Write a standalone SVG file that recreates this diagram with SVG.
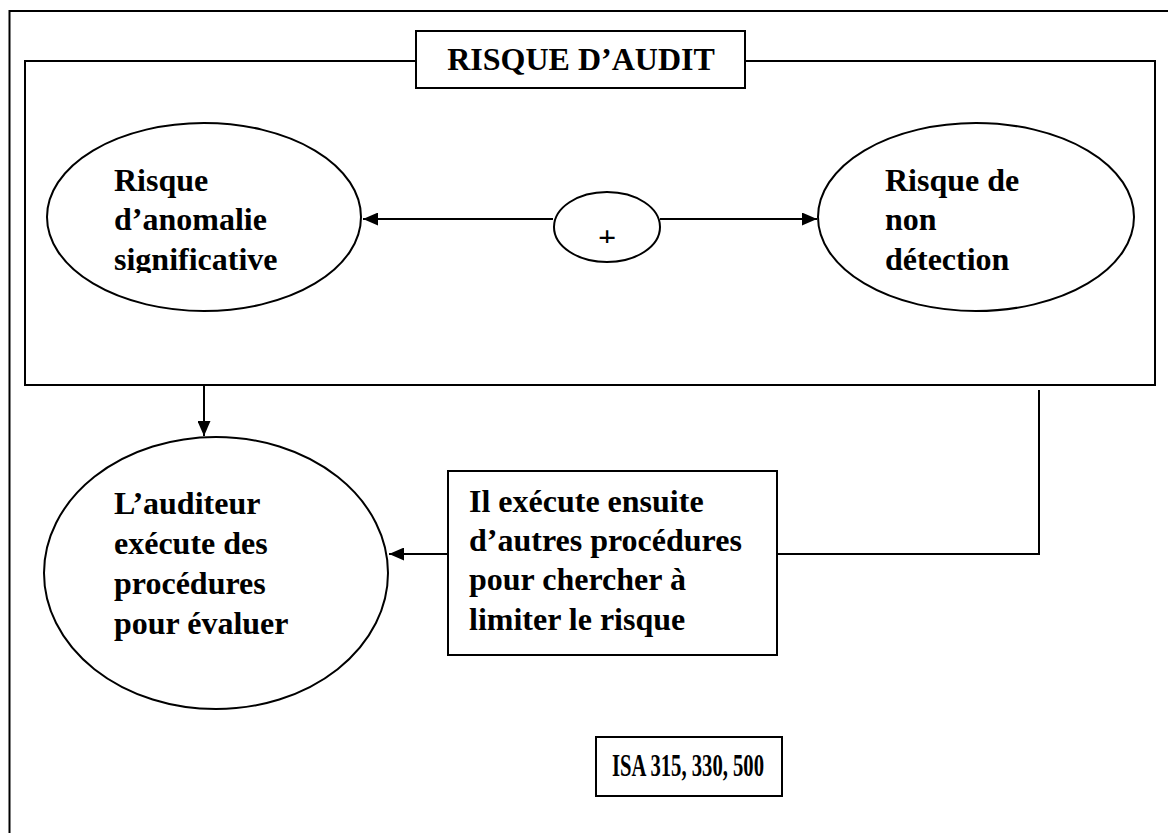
<svg xmlns="http://www.w3.org/2000/svg" width="1168" height="833" viewBox="0 0 1168 833">
  <style>
    .line { fill: none; stroke: #000; stroke-width: 2; }
    .shape { fill: #fff; stroke: #000; stroke-width: 2; }
    .label { font-family: "Liberation Serif", "Times New Roman", serif; font-weight: bold; font-size: 32px; fill: #000; }
  </style>
  <defs>
    <marker id="arrow" viewBox="0 0 15 13" refX="15" refY="6.5" markerWidth="15" markerHeight="13" markerUnits="userSpaceOnUse" orient="auto">
      <path d="M0,0 L15,6.5 L0,13 Z" fill="#000"/>
    </marker>
    <clipPath id="clip-left"><rect x="40" y="120" width="330" height="153"/></clipPath>
    <clipPath id="clip-plus"><rect x="580" y="228" width="60" height="15"/></clipPath>
  </defs>

  <!-- outer page frame, open on the right and bottom -->
  <path id="frame" class="line" d="M9.5,833 V11 H1168"/>

  <!-- main audit-risk container -->
  <g id="container">
    <rect class="line" x="25" y="61" width="1130" height="324"/>
  </g>

  <g id="title">
    <rect class="shape" x="416" y="31" width="329" height="57"/>
    <text class="label" x="581" y="70" text-anchor="middle">RISQUE D’AUDIT</text>
  </g>

  <g id="connectors">
    <line class="line" x1="553" y1="219" x2="363" y2="219" marker-end="url(#arrow)"/>
    <line class="line" x1="660" y1="219" x2="817" y2="219" marker-end="url(#arrow)"/>
    <line class="line" x1="204" y1="385" x2="204" y2="436" marker-end="url(#arrow)"/>
    <polyline class="line" points="1039,390 1039,554 777,554"/>
    <line class="line" x1="448" y1="554" x2="389" y2="554" marker-end="url(#arrow)"/>
  </g>

  <g id="anomalie">
    <ellipse class="shape" cx="204" cy="217" rx="157" ry="94"/>
    <g clip-path="url(#clip-left)">
      <text class="label" x="114" y="191">Risque</text>
      <text class="label" x="114" y="230">d’anomalie</text>
      <text class="label" x="114" y="270">significative</text>
    </g>
  </g>

  <g id="plus">
    <ellipse class="shape" cx="607" cy="227" rx="53" ry="35"/>
    <text class="label" x="607" y="248" font-size="38" text-anchor="middle" clip-path="url(#clip-plus)">+</text>
  </g>

  <g id="non-detection">
    <ellipse class="shape" cx="976" cy="217" rx="158" ry="94"/>
    <text class="label" x="885" y="191">Risque de</text>
    <text class="label" x="885" y="230">non</text>
    <text class="label" x="885" y="270">détection</text>
  </g>

  <g id="auditeur">
    <ellipse class="shape" cx="216" cy="573" rx="172" ry="136"/>
    <text class="label" x="114" y="514">L’auditeur</text>
    <text class="label" x="114" y="554">exécute des</text>
    <text class="label" x="114" y="594">procédures</text>
    <text class="label" x="114" y="634">pour évaluer</text>
  </g>

  <g id="procedures">
    <rect class="shape" x="448" y="471" width="329" height="184"/>
    <text class="label" x="469" y="512">Il exécute ensuite</text>
    <text class="label" x="469" y="551">d’autres procédures</text>
    <text class="label" x="469" y="590">pour chercher à</text>
    <text class="label" x="469" y="630">limiter le risque</text>
  </g>

  <g id="isa">
    <rect class="shape" x="596" y="737" width="186" height="59"/>
    <text class="label" x="612" y="776" font-size="22" textLength="152" lengthAdjust="spacingAndGlyphs">ISA 315, 330, 500</text>
  </g>
</svg>
